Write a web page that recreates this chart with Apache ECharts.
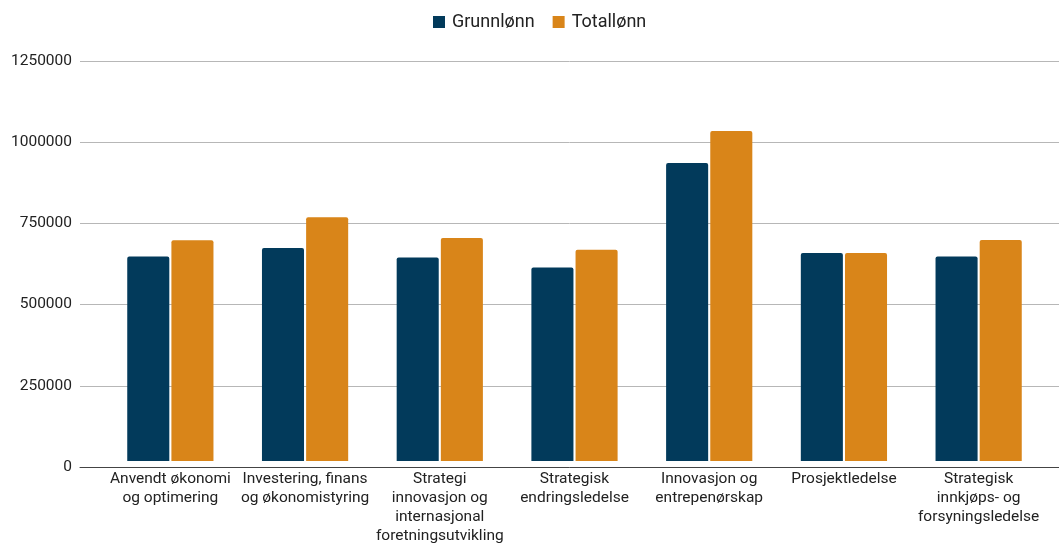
<!DOCTYPE html>
<html><head><meta charset="utf-8">
<script src="https://cdn.jsdelivr.net/npm/echarts@6/dist/echarts.min.js"></script>
<style>html,body{margin:0;padding:0;background:#fff}#c{width:1059px;height:546px}</style>
</head><body><div id="c"></div>
<script>
const categories = [
  "Anvendt økonomi\nog optimering",
  "Investering, finans\nog økonomistyring",
  "Strategi\ninnovasjon og\ninternasjonal\nforetningsutvikling",
  "Strategisk\nendringsledelse",
  "Innovasjon og\nentrepenørskap",
  "Prosjektledelse",
  "Strategisk\ninnkjøps- og\nforsyningsledelse"
];
const grunnlonn = [639000, 666000, 636000, 605000, 931000, 650000, 639000];
const totallonn = [690000, 762000, 697000, 660000, 1031000, 650000, 691000];
const yTicks = [0, 250000, 500000, 750000, 1000000, 1250000];

const chart = echarts.init(document.getElementById('c'));
const font = 'Roboto';
chart.setOption({
  animation: false,
  textStyle: {fontFamily: font},
  legend: {
    top: 8, left: 428, itemWidth: 12, itemHeight: 12, itemGap: 18,
    icon: 'rect',
    textStyle: {fontSize: 18, color: '#222', fontFamily: font, padding: [0, 0, 0, 2]},
    data: ['Grunnlønn', 'Totallønn']
  },
  grid: [
    {left: 80, right: 0, top: 61, bottom: 79},
    {left: 103, right: 13, top: 61, bottom: 79}
  ],
  xAxis: [
    {gridIndex: 0, type: 'value', min: 0, max: 1, show: true,
     axisLine: {show: true, lineStyle: {color: '#444', width: 1}},
     axisTick: {show: false}, axisLabel: {show: false}, splitLine: {show: false}},
    {gridIndex: 1, type: 'category', data: categories,
     axisLine: {show: false}, axisTick: {show: false},
     axisLabel: {interval: 0, fontSize: 15.5, color: '#222', lineHeight: 19, margin: 9, fontFamily: font}}
  ],
  yAxis: [
    {gridIndex: 0, type: 'value', min: yTicks[0], max: yTicks[yTicks.length-1], interval: 250000,
     axisLine: {show: false}, axisTick: {show: false},
     axisLabel: {fontSize: 15.5, color: '#222', margin: 8, fontFamily: font,
                 formatter: v => String(v)},
     splitLine: {lineStyle: {color: '#b7b7b7', width: 1}}},
    {gridIndex: 1, type: 'value', min: yTicks[0], max: yTicks[yTicks.length-1], interval: 250000,
     show: false, splitLine: {show: false}}
  ],
  series: [
    {name: 'Grunnlønn', type: 'bar', xAxisIndex: 1, yAxisIndex: 1, data: grunnlonn,
     barGap: '5%', barCategoryGap: '36%',
     itemStyle: {color: '#023a5b', borderRadius: [2, 2, 0, 0]}},
    {name: 'Totallønn', type: 'bar', xAxisIndex: 1, yAxisIndex: 1, data: totallonn,
     barGap: '5%', barCategoryGap: '36%',
     itemStyle: {color: '#d98519', borderRadius: [2, 2, 0, 0]}}
  ]
});
</script></body></html>
